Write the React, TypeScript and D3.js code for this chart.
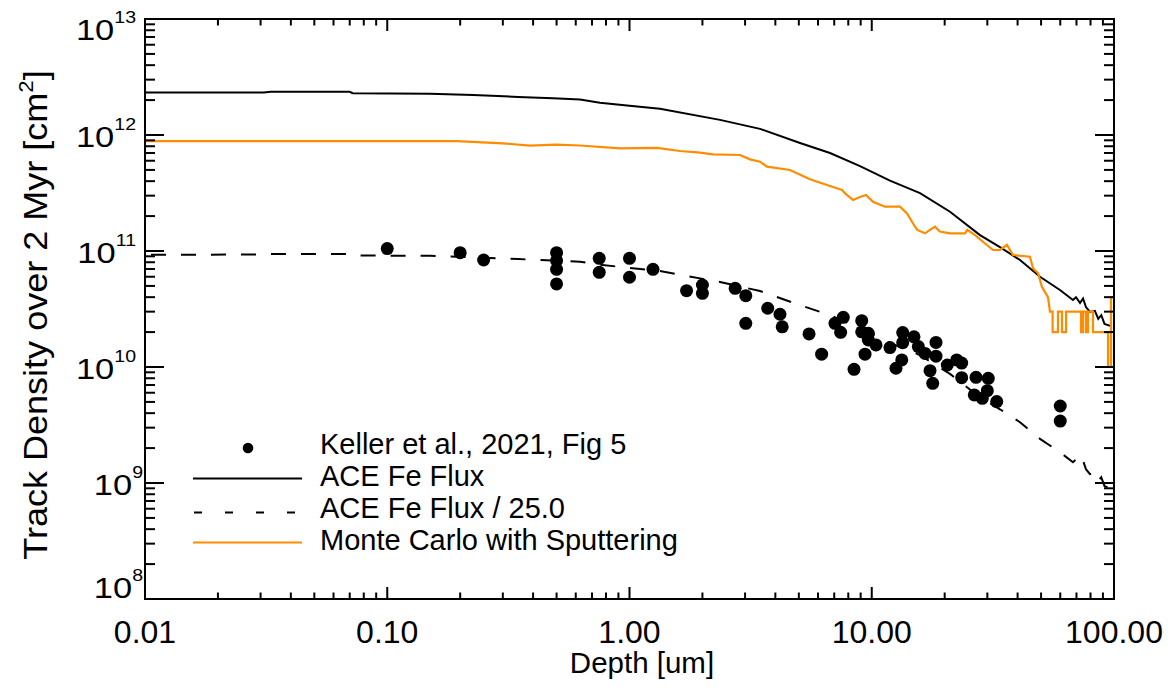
import React from 'react';
import * as d3 from 'd3';

// ACE Fe flux (solid black line)
const aceDepth = [0.01, 0.031, 0.033, 0.07, 0.072, 0.15, 0.226, 0.347, 0.483, 0.625, 0.755, 1.0, 1.336, 2.364, 3.457, 5.057, 6.725, 8.944, 11.89, 15.82, 21.04, 27.98, 33.83, 40.93, 49.49, 59.84, 67.7, 69.7, 72.4, 74.5, 76.6, 79.6, 83.4, 86.1, 88.6, 91.4, 97.2];
const aceFlux = [2.32e12, 2.33e12, 2.36e12, 2.36e12, 2.29e12, 2.27e12, 2.21e12, 2.13e12, 2.07e12, 2.02e12, 1.9e12, 1.79e12, 1.68e12, 1.35e12, 1.13e12, 8.54e11, 7.0e11, 5.4e11, 4.04e11, 3.16e11, 2.18e11, 1.37e11, 1.08e11, 8.36e10, 6.0e10, 4.61e10, 3.78e10, 4.0e10, 3.56e10, 3.9e10, 3.29e10, 2.98e10, 3.05e10, 2.6e10, 2.8e10, 2.35e10, 2.25e10];
const fluxDivisor = 25.0;

// Monte Carlo with sputtering (orange line)
const mcDepth = [0.01, 0.194, 0.3, 0.388, 0.497, 0.625, 0.914, 1.3, 1.616, 1.954, 2.212, 2.859, 3.144, 3.457, 3.695, 4.598, 5.56, 6.725, 7.54, 7.76, 8.37, 8.944, 9.47, 10.12, 11.34, 13.08, 13.98, 15.09, 15.4, 16.59, 17.4, 18.24, 19.1, 21.04, 24.27, 24.8, 26.7, 29.35, 31.66, 33.83, 36.16, 38.3, 45.0, 46.3, 48.6, 50.4, 53.4, 54.4, 55.8, 55.8, 58.7, 58.7, 61.0, 61.0, 63.4, 63.4, 73.1, 73.1, 74.5, 74.5, 76.6, 76.6, 78.1, 78.1, 81.9, 81.9, 94.5, 94.5, 97.2, 97.2, 100];
const mcTrack = [8.87e11, 8.87e11, 8.48e11, 8.09e11, 8.25e11, 8.12e11, 7.68e11, 7.74e11, 7.28e11, 7.04e11, 6.82e11, 6.72e11, 6.17e11, 5.89e11, 5.33e11, 4.99e11, 4.15e11, 3.63e11, 3.36e11, 3.14e11, 2.75e11, 2.92e11, 3.04e11, 2.66e11, 2.41e11, 2.41e11, 2.11e11, 1.62e11, 1.52e11, 1.42e11, 1.52e11, 1.62e11, 1.47e11, 1.42e11, 1.42e11, 1.52e11, 1.37e11, 1.16e11, 1.02e11, 1.02e11, 1.13e11, 9.24e10, 8.94e10, 7.1e10, 6.42e10, 4.92e10, 4.0e10, 3.0e10, 3.0e10, 2.0e10, 2.0e10, 3.0e10, 3.0e10, 2.0e10, 2.0e10, 3.0e10, 3.0e10, 2.0e10, 2.0e10, 3.0e10, 3.0e10, 2.0e10, 2.0e10, 3.0e10, 3.0e10, 2.0e10, 2.0e10, 1.0e10, 1.0e10, 4.0e10, 4.0e10];

// Keller et al., 2021, Fig 5 (points)
const kellerDepth = [0.1, 0.2, 0.25, 0.5, 0.5, 0.5, 0.5, 0.75, 0.75, 1.0, 1.0, 1.25, 1.72, 2.0, 2.0, 2.73, 3.02, 3.02, 3.72, 4.18, 4.27, 5.51, 6.21, 7.05, 7.63, 7.44, 8.45, 9.09, 9.09, 9.38, 9.68, 9.68, 10.41, 11.89, 13.42, 13.42, 13.3, 12.59, 14.94, 15.57, 16.59, 17.4, 17.85, 18.42, 18.42, 20.51, 22.42, 23.51, 23.51, 26.94, 26.5, 30.27, 29.99, 28.6, 32.8, 60, 60];
const kellerDensity = [1.05e11, 9.68e10, 8.36e10, 9.68e10, 8.25e10, 6.95e10, 5.2e10, 8.65e10, 6.55e10, 8.65e10, 5.94e10, 6.95e10, 4.55e10, 5.09e10, 4.32e10, 4.77e10, 4.12e10, 2.38e10, 3.21e10, 2.85e10, 2.22e10, 1.93e10, 1.29e10, 2.38e10, 2.68e10, 1.99e10, 9.55e9, 2.51e10, 2.01e10, 1.29e10, 1.95e10, 1.71e10, 1.55e10, 1.47e10, 1.98e10, 1.62e10, 1.15e10, 9.75e9, 1.82e10, 1.5e10, 1.31e10, 9.3e9, 7.23e9, 1.63e10, 1.24e10, 1.04e10, 1.15e10, 1.08e10, 8.09e9, 8.15e9, 5.74e9, 7.99e9, 6.25e9, 5.37e9, 5.03e9, 4.61e9, 3.42e9];

const xTickValues = [0.01, 0.1, 1, 10, 100];
const xTickLabels = ['0.01', '0.10', '1.00', '10.00', '100.00'];
const yTickExponents = [8, 9, 10, 11, 12, 13];
const legendLabels = ['Keller et al., 2021, Fig 5', 'ACE Fe Flux', 'ACE Fe Flux / 25.0', 'Monte Carlo with Sputtering'];
const xTitle = 'Depth [um]';

const ORANGE = '#ff8c00';
const FONT = '"Liberation Sans", Arial, Helvetica, sans-serif';

export default function App() {
  const W = 1171, H = 690;
  const L = 145, R = 1114, T = 19, B = 599;
  const x = d3.scaleLog().domain([0.01, 100]).range([L, R]);
  const y = d3.scaleLog().domain([1e8, 1e13]).range([B, T]);
  const line = d3.line<[number, number]>().x(d => x(d[0])).y(d => y(d[1]));

  const ace: [number, number][] = aceDepth.map((d, i) => [d, aceFlux[i]]);
  const aceDiv: [number, number][] = aceDepth.map((d, i) => [d, aceFlux[i] / fluxDivisor]);
  const mc: [number, number][] = mcDepth.map((d, i) => [d, mcTrack[i]]);

  const xMinor: number[] = [];
  for (let e = -2; e < 2; e++) for (let k = 2; k <= 9; k++) xMinor.push(k * Math.pow(10, e));
  const yMinor: number[] = [];
  for (let e = 8; e < 13; e++) for (let k = 2; k <= 9; k++) yMinor.push(k * Math.pow(10, e));

  const xMaj = 12, xMin = 6.5, yMaj = 19, yMin = 10;

  return (
    <svg width={W} height={H} style={{ position: 'absolute', left: 0, top: 0, background: '#fff' }} fontFamily={FONT}>
      <rect x={0} y={0} width={W} height={H} fill="#fff" />
      <defs>
        <clipPath id="plot"><rect x={L} y={T} width={R - L} height={B - T} /></clipPath>
      </defs>

      <g clipPath="url(#plot)" fill="none">
        <path d={line(ace) || ''} stroke="#000" strokeWidth={2} />
        <path d={line(aceDiv) || ''} stroke="#000" strokeWidth={2} strokeDasharray="15,15" strokeDashoffset={-6} />
        <path d={line(mc) || ''} stroke={ORANGE} strokeWidth={2.2} />
      </g>
      <g fill="#000">
        {kellerDepth.map((d, i) => (
          <circle key={i} cx={x(d)} cy={y(kellerDensity[i])} r={6.5} />
        ))}
      </g>

      {/* axes frame */}
      <g stroke="#000" strokeWidth={2} fill="none">
        <rect x={L} y={T} width={R - L} height={B - T} />
        {xTickValues.map((v, i) => (
          <g key={'xm' + i}>
            <line x1={x(v)} x2={x(v)} y1={B} y2={B - xMaj} />
            <line x1={x(v)} x2={x(v)} y1={T} y2={T + xMaj} />
          </g>
        ))}
        {xMinor.map((v, i) => (
          <g key={'xn' + i}>
            <line x1={x(v)} x2={x(v)} y1={B} y2={B - xMin} />
            <line x1={x(v)} x2={x(v)} y1={T} y2={T + xMin} />
          </g>
        ))}
        {yTickExponents.map((e, i) => (
          <g key={'ym' + i}>
            <line x1={L} x2={L + yMaj} y1={y(Math.pow(10, e))} y2={y(Math.pow(10, e))} />
            <line x1={R} x2={R - yMaj} y1={y(Math.pow(10, e))} y2={y(Math.pow(10, e))} />
          </g>
        ))}
        {yMinor.map((v, i) => (
          <g key={'yn' + i}>
            <line x1={L} x2={L + yMin} y1={y(v)} y2={y(v)} />
            <line x1={R} x2={R - yMin} y1={y(v)} y2={y(v)} />
          </g>
        ))}
      </g>

      {/* x tick labels */}
      <g fontSize={32} textAnchor="middle" fill="#000">
        {xTickValues.map((v, i) => (
          <text key={i} x={x(v)} y={643}>{xTickLabels[i]}</text>
        ))}
      </g>
      <text x={642} y={673} fontSize={29.5} textAnchor="middle">{xTitle}</text>

      {/* y tick labels */}
      {yTickExponents.map((e, i) => {
        const ty = y(Math.pow(10, e));
        const base = Math.max(40, Math.min(598, ty + 11.5));
        const endX = String(e).length > 1 ? 136 : 143;
        return (
          <g key={i} transform={`translate(${endX},${base}) scale(1.15,1)`}>
            <text x={0} y={0} textAnchor="end" fontSize={30}>
              10<tspan fontSize={17} dy={-17}>{e}</tspan>
            </text>
          </g>
        );
      })}

      {/* y title */}
      <text transform="translate(47,315) rotate(-90) scale(1.06,1)" textAnchor="middle" fontSize={34}>
        Track Density over 2 Myr [cm<tspan fontSize={21} dy={-14}>2</tspan><tspan dy={14}>]</tspan>
      </text>

      {/* legend */}
      <g>
        <circle cx={248} cy={448} r={5.3} fill="#000" />
        <line x1={193} x2={302} y1={478.5} y2={478.5} stroke="#000" strokeWidth={2} />
        <line x1={194} x2={302} y1={512.5} y2={512.5} stroke="#000" strokeWidth={2} strokeDasharray="8,23" />
        <line x1={193} x2={302} y1={542.5} y2={542.5} stroke={ORANGE} strokeWidth={2.2} />
        <g fontSize={29}>
          {legendLabels.map((t, i) => (
            <text key={i} x={320} y={454 + i * 32}>{t}</text>
          ))}
        </g>
      </g>
    </svg>
  );
}
